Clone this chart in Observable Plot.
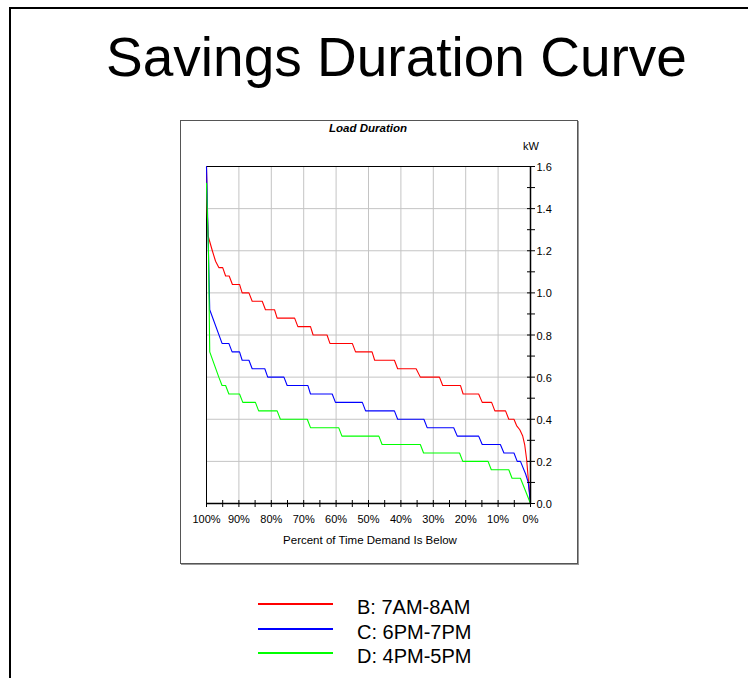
<!DOCTYPE html>
<html>
<head>
<meta charset="utf-8">
<script src="https://cdn.jsdelivr.net/npm/d3@7"></script>
<script src="https://cdn.jsdelivr.net/npm/@observablehq/plot@0.6"></script>
<style>
  html, body { margin: 0; padding: 0; background: #fff; }
  #page { position: relative; width: 748px; height: 678px; overflow: hidden; background: #fff;
          font-family: "Liberation Sans", Arial, Helvetica, sans-serif; color: #000; }
  .abs { position: absolute; white-space: nowrap; }
  #outer { left: 9px; top: 7px; width: 900px; height: 900px; border-left: 2px solid #000; border-top: 2px solid #000; }
  #title { left: 0; width: 793px; top: 30px; font-size: 55px; line-height: 55px; text-align: center; }
  #box { left: 180px; top: 120px; width: 396px; height: 442px; border: 1px solid #555; box-shadow: 1px 1px 0 #999; background: #fff; }
  #chart { left: 180px; top: 120px; }
  #subtitle { left: 268px; width: 200px; top: 122.7px; font-size: 11.5px; line-height: 11.5px; text-align: center; font-weight: bold; font-style: italic; }
  #unit { left: 523px; top: 140.7px; font-size: 11px; line-height: 11px; }
  #xlabel { left: 270px; width: 200px; top: 535px; font-size: 11.5px; line-height: 11.5px; text-align: center; }
  .legline { position: absolute; left: 258px; width: 75px; height: 0; border-top: 2px solid; }
  .legtext { position: absolute; left: 357px; font-size: 20px; line-height: 20px; white-space: nowrap; }
</style>
</head>
<body>
<div id="page">
  <div id="outer" class="abs"></div>
  <div id="title" class="abs">Savings Duration Curve</div>
  <div id="box" class="abs"></div>
  <div id="chart" class="abs"></div>
  <div id="subtitle" class="abs">Load Duration</div>
  <div id="unit" class="abs">kW</div>
  <div id="xlabel" class="abs">Percent of Time Demand Is Below</div>
  <div id="legend"></div>
</div>
<script>
// ---- Data ----
const seriesNames = ["B: 7AM-8AM", "C: 6PM-7PM", "D: 4PM-5PM"];
const seriesColors = ["#ff0000", "#0000ff", "#00ff00"];

// B: 7AM-8AM (red): percent of time demand is below, kW
const pctB = [100, 99.8, 99.5, 98.2, 97.2, 96.2, 95.0, 94.1, 93.0, 92.0, 89.8, 89.0, 86.9, 85.9, 82.8, 81.8, 79.0, 78.2, 72.8, 71.8, 67.9, 67.1, 62.8, 61.9, 55.0, 54.0, 48.9, 48.1, 42.0, 41.0, 35.3, 34.0, 28.1, 27.1, 21.6, 20.8, 16.0, 14.9, 12.0, 11.0, 7.7, 6.7, 5.1, 4.3, 3.3, 2.4, 1.8, 1.2, 0.7, 0];
const kwB  = [1.60, 1.40, 1.27, 1.20, 1.15, 1.12, 1.12, 1.08, 1.08, 1.04, 1.04, 1.00, 1.00, 0.96, 0.96, 0.92, 0.92, 0.88, 0.88, 0.84, 0.84, 0.80, 0.80, 0.76, 0.76, 0.72, 0.72, 0.68, 0.68, 0.64, 0.64, 0.60, 0.60, 0.56, 0.56, 0.52, 0.52, 0.48, 0.48, 0.44, 0.44, 0.40, 0.40, 0.37, 0.35, 0.32, 0.28, 0.21, 0.12, 0];

// C: 6PM-7PM (blue)
const pctC = [100, 99.4, 99.0, 95.2, 93.1, 92.1, 89.8, 89.0, 86.9, 85.9, 82.0, 81.1, 76.1, 75.1, 68.7, 67.9, 61.2, 60.2, 51.9, 50.9, 42.0, 41.0, 32.9, 31.9, 23.7, 22.6, 16.0, 14.9, 9.3, 8.2, 5.1, 4.1, 3.1, 1.5, 0.7, 0];
const kwC  = [1.60, 1.20, 0.92, 0.76, 0.76, 0.72, 0.72, 0.68, 0.68, 0.64, 0.64, 0.60, 0.60, 0.56, 0.56, 0.52, 0.52, 0.48, 0.48, 0.44, 0.44, 0.40, 0.40, 0.36, 0.36, 0.32, 0.32, 0.28, 0.28, 0.24, 0.24, 0.20, 0.20, 0.14, 0.10, 0];

// D: 4PM-5PM (green)
const pctD = [100, 99.4, 99.0, 96.2, 95.2, 94.1, 93.1, 89.8, 88.8, 84.9, 83.9, 78.2, 77.2, 68.9, 67.9, 59.2, 58.2, 46.8, 45.8, 34.0, 33.0, 21.9, 20.9, 13.1, 12.1, 6.7, 5.7, 3.1, 0];
const kwD  = [1.52, 1.20, 0.72, 0.60, 0.56, 0.56, 0.52, 0.52, 0.48, 0.48, 0.44, 0.44, 0.40, 0.40, 0.36, 0.36, 0.32, 0.32, 0.28, 0.28, 0.24, 0.24, 0.20, 0.20, 0.16, 0.16, 0.12, 0.12, 0];

// Axis ticks
const xMajorTicks = [100, 90, 80, 70, 60, 50, 40, 30, 20, 10, 0];
const xMinorTicks = [100, 95, 90, 85, 80, 75, 70, 65, 60, 55, 50, 45, 40, 35, 30, 25, 20, 15, 10, 5, 0];
const yMajorTicks = [0, 0.2, 0.4, 0.6, 0.8, 1.0, 1.2, 1.4, 1.6];
const yMinorTicks = [0, 0.1, 0.2, 0.3, 0.4, 0.5, 0.6, 0.7, 0.8, 0.9, 1.0, 1.1, 1.2, 1.3, 1.4, 1.5, 1.6];

// ---- Build table ----
const seriesPct = [pctB, pctC, pctD];
const seriesKw = [kwB, kwC, kwD];
const rows = seriesNames.flatMap((name, i) =>
  seriesPct[i].map((p, j) => ({series: name, pct: p, kw: seriesKw[i][j]})));

const plotHeight = 443;
const mTop = 46, mBottom = 60;
const innerH = plotHeight - mTop - mBottom;

const chart = Plot.plot({
  width: 397,
  height: plotHeight,
  marginLeft: 26,
  marginRight: 47,
  marginTop: mTop,
  marginBottom: mBottom,
  style: {fontFamily: '"Liberation Sans", Arial, sans-serif', fontSize: "11px", color: "#000", background: "transparent", overflow: "visible"},
  x: {domain: [100, 0], label: null},
  y: {domain: [0, 1.6], label: null},
  color: {domain: seriesNames, range: seriesColors},
  marks: [
    Plot.gridX(xMajorTicks, {stroke: "#c4c4c4", strokeOpacity: 1, strokeWidth: 1}),
    Plot.gridY(yMajorTicks, {stroke: "#c4c4c4", strokeOpacity: 1, strokeWidth: 1}),
    Plot.frame({stroke: "#000"}),
    Plot.line(rows, {x: "pct", y: "kw", z: "series", stroke: "series", strokeWidth: 1.1, curve: "linear"}),
    // outward tick marks
    Plot.axisX(xMinorTicks, {anchor: "bottom", tickSize: 4, tickFormat: () => "", label: null}),
    // inward tick marks
    Plot.tickX(xMinorTicks, {x: d => d, stroke: "#000", insetTop: innerH - 3}),
    Plot.axisX(xMajorTicks, {anchor: "bottom", tickSize: 0, tickPadding: 12, tickFormat: d => d + "%", label: null}),
    Plot.axisY(yMinorTicks, {anchor: "right", tickSize: 4, tickFormat: () => "", label: null}),
    Plot.tickY(yMinorTicks, {y: d => d, stroke: "#000", insetLeft: 325 - 4}),
    Plot.axisY(yMajorTicks, {anchor: "right", tickSize: 0, tickPadding: 6, dy: 1, tickFormat: d3.format(".1f"), label: null}),
    Plot.ruleY([0], {stroke: "#000", strokeWidth: 1.5}),
    Plot.ruleX([0], {stroke: "#000", strokeWidth: 1.5})
  ]
});
document.getElementById("chart").appendChild(chart);

// ---- Legend ----
const legend = document.getElementById("legend");
const legLineY = [604, 628.5, 653];
seriesNames.forEach((name, i) => {
  const ln = document.createElement("div");
  ln.className = "legline";
  ln.style.top = (legLineY[i] - 1) + "px";
  ln.style.borderTopColor = seriesColors[i];
  legend.appendChild(ln);
  const tx = document.createElement("div");
  tx.className = "legtext";
  tx.style.top = (legLineY[i] + 10.3 - 16.9) + "px";
  tx.textContent = name;
  legend.appendChild(tx);
});
</script>
</body>
</html>
